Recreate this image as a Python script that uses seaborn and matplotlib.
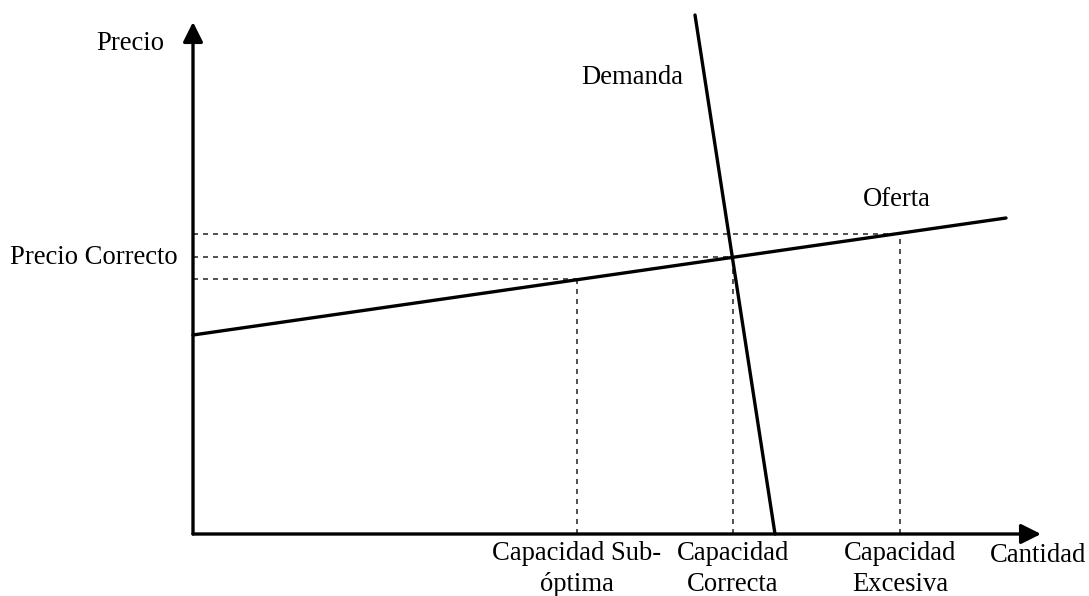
import numpy as np
import pandas as pd
import matplotlib
matplotlib.use('Agg')
import matplotlib.pyplot as plt
import seaborn as sns

# Esquema oferta/demanda (unidades: cantidad, precio)
oferta_q = [0, 813]
oferta_p = [199, 316]
demanda_q = [502, 582]
demanda_p = [519, 0]

capacidades = ['Capacidad Sub-\nóptima', 'Capacidad\nCorrecta', 'Capacidad\nExcesiva']
cap_q = [384, 540, 707]
cap_p = [255, 277, 300]

sns.set_theme(style='white')
plt.rcParams['font.family'] = ['Liberation Serif', 'DejaVu Serif']
plt.rcParams['text.color'] = 'black'

fig = plt.figure(figsize=(10.89, 5.96), dpi=100)
ax = fig.add_axes([0, 0, 1, 1])
ax.set_xlim(-193, 896)
ax.set_ylim(-62, 534)
ax.axis('off')

# ejes con flecha
arrow = dict(arrowstyle='-|>', lw=2.4, color='black', mutation_scale=30, shrinkA=0, shrinkB=0)
ax.annotate('', xy=(0, 512), xytext=(0, 0), arrowprops=arrow)
ax.annotate('', xy=(848, 0), xytext=(0, 0), arrowprops=arrow)

# guias punteadas
for q, p in zip(cap_q, cap_p):
    ax.plot([0, q], [p, p], ls=(0, (3, 3)), lw=1.2, color='#333333')
    ax.plot([q, q], [0, p], ls=(0, (3, 3)), lw=1.2, color='#333333')

df_o = pd.DataFrame({'q': oferta_q, 'p': oferta_p})
df_d = pd.DataFrame({'q': demanda_q, 'p': demanda_p})
sns.lineplot(data=df_o, x='q', y='p', ax=ax, color='black', lw=2.4, sort=False)
sns.lineplot(data=df_d, x='q', y='p', ax=ax, color='black', lw=2.4, sort=False)

fs = 19.2
ax.text(-63, 490, 'Precio', fontsize=fs, ha='center', va='center')
ax.text(-15, cap_p[1], 'Precio Correcto', fontsize=fs, ha='right', va='center')
ax.text(439, 457, 'Demanda', fontsize=fs, ha='center', va='center')
ax.text(704, 334, 'Oferta', fontsize=fs, ha='center', va='center')
ax.text(893, -21, 'Cantidad', fontsize=fs, ha='right', va='center')
for lab, q in zip(capacidades, cap_q):
    ax.text(q, -35, lab, fontsize=fs, ha='center', va='center', linespacing=1.3)

fig.savefig('out.png', dpi=100)
